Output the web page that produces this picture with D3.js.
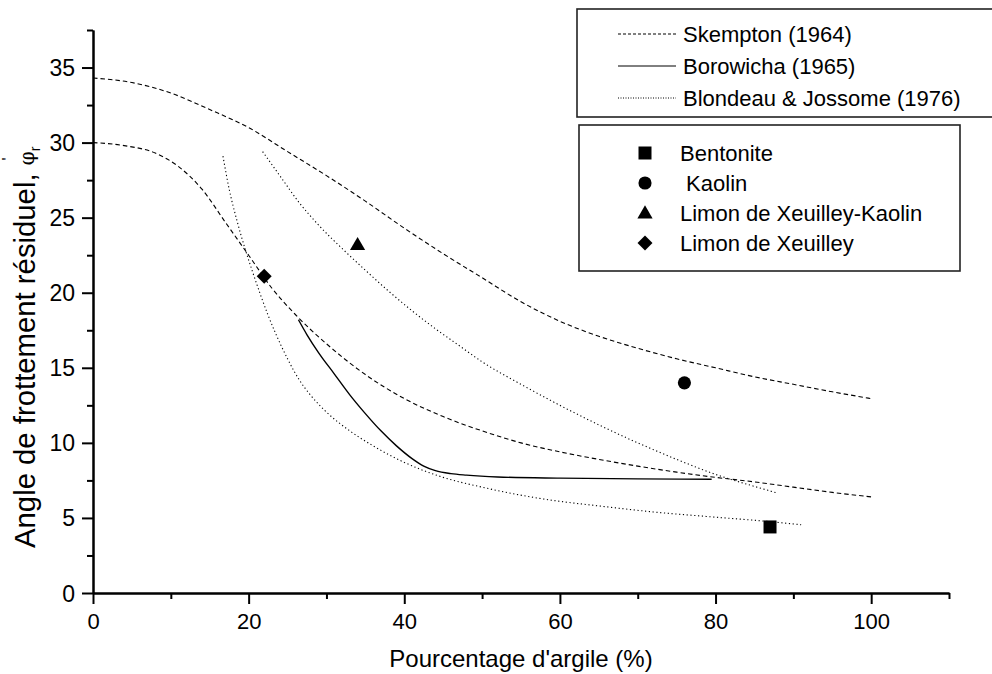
<!DOCTYPE html>
<html>
<head>
<meta charset="utf-8">
<script src="https://cdn.jsdelivr.net/npm/d3@7/dist/d3.min.js"></script>
<style>
  html, body { margin: 0; padding: 0; background: #fff; }
  svg { display: block; font-family: "Liberation Sans", Arial, sans-serif; }
</style>
</head>
<body>
<svg id="chart" width="992" height="674"></svg>
<script>
// ---------------- DATA ----------------
const xTicksMajor = [0, 20, 40, 60, 80, 100];
const xTicksMinor = [10, 30, 50, 70, 90, 110];
const yTicksMajor = [0, 5, 10, 15, 20, 25, 30, 35];
const yTicksMinor = [2.5, 7.5, 12.5, 17.5, 22.5, 27.5, 32.5, 37.5];

const skemptonUpperX = [0, 5, 10, 15, 20, 25, 30, 35, 40, 45, 50, 55, 60, 65, 70, 75, 80, 85, 90, 95, 100];
const skemptonUpperY = [34.3, 34.0, 33.3, 32.2, 31.0, 29.4, 27.8, 26.1, 24.3, 22.6, 21.0, 19.4, 18.1, 17.1, 16.3, 15.6, 15.0, 14.4, 13.9, 13.4, 12.95];

const skemptonLowerX = [0, 4, 8, 11, 14, 17, 20, 23, 26, 30, 35, 40, 45, 50, 55, 60, 65, 70, 75, 80, 85, 90, 95, 100];
const skemptonLowerY = [30.0, 29.8, 29.3, 28.4, 26.9, 24.7, 22.5, 20.3, 18.55, 16.6, 14.55, 12.95, 11.75, 10.8, 10.0, 9.4, 8.9, 8.45, 8.05, 7.7, 7.4, 7.05, 6.7, 6.4];

const borowichaX = [26.4, 27.5, 29, 31, 33, 35, 37, 39, 41, 42.5, 44, 46, 48, 52, 60, 70, 79.5];
const borowichaY = [18.2, 17.2, 16.0, 14.6, 13.2, 11.95, 10.8, 9.8, 8.95, 8.45, 8.15, 7.95, 7.85, 7.73, 7.65, 7.6, 7.58];

const blondeauLeftX = [16.7, 17.5, 18.5, 19.5, 20.5, 21.5, 22.5, 23.5, 25, 26.5, 28, 30, 33, 36, 40, 45, 50, 58, 65, 72, 80, 86, 91];
const blondeauLeftY = [29.1, 26.9, 24.8, 23.0, 21.4, 19.9, 18.5, 17.25, 15.6, 14.2, 13.15, 12.05, 10.8, 9.8, 8.7, 7.7, 7.05, 6.25, 5.8, 5.4, 5.05, 4.8, 4.55];

const blondeauRightX = [21.8, 24, 26.5, 29, 32, 35, 38, 41, 44, 47, 50, 55, 60, 65, 70, 75, 80, 85, 88];
const blondeauRightY = [29.4, 27.8, 26.0, 24.5, 22.95, 21.5, 20.1, 18.8, 17.6, 16.5, 15.4, 13.9, 12.5, 11.2, 10.0, 8.9, 7.9, 7.1, 6.65];

const sampleNames = ["Bentonite", " Kaolin", "Limon de Xeuilley-Kaolin", "Limon de Xeuilley"];
const sampleX = [87, 76, 34, 22];
const sampleY = [4.4, 14.0, 23.2, 21.1];
const sampleShapes = ["square", "circle", "triangle", "diamond"];

const curveNames = ["Skempton (1964)", "Borowicha (1965)", "Blondeau & Jossome (1976)"];

const xTitle = "Pourcentage d'argile (%)";
const yTitle = "Angle de frottement résiduel, ";

// ---------------- CHART ----------------
const svg = d3.select("#chart");
const x = d3.scaleLinear().domain([0, 110]).range([93, 949]);
const y = d3.scaleLinear().domain([0, 37.5]).range([593, 30]);

const dashStyle = "4.5,3";
const dotStyle = "1.2,2.6";

const zip = (xs, ys) => xs.map((v, i) => [v, ys[i]]);
const line = d3.line().x(d => x(d[0])).y(d => y(d[1])).curve(d3.curveMonotoneX);

const curves = [
  { data: zip(skemptonUpperX, skemptonUpperY), dash: dashStyle, w: 1.1 },
  { data: zip(skemptonLowerX, skemptonLowerY), dash: dashStyle, w: 1.1 },
  { data: zip(borowichaX, borowichaY), dash: null, w: 1.4 },
  { data: zip(blondeauLeftX, blondeauLeftY), dash: dotStyle, w: 1.1 },
  { data: zip(blondeauRightX, blondeauRightY), dash: dotStyle, w: 1.1 }
];
svg.append("g").selectAll("path").data(curves).join("path")
  .attr("d", d => line(d.data))
  .attr("fill", "none")
  .attr("stroke", "#000")
  .attr("stroke-width", d => d.w)
  .attr("stroke-dasharray", d => d.dash);

function symPath(shape) {
  if (shape === "square") return d3.symbol(d3.symbolSquare, 169)();
  if (shape === "circle") return d3.symbol(d3.symbolCircle, 136)();
  if (shape === "triangle") return d3.symbol(d3.symbolTriangle, 100)();
  return d3.symbol(d3.symbolSquare, 112)();
}
function symTransform(shape, px, py) {
  if (shape === "diamond") return `translate(${px},${py}) rotate(45)`;
  if (shape === "triangle") return `translate(${px},${py + 1})`;
  return `translate(${px},${py})`;
}

// markers
svg.append("g").selectAll("path").data(sampleX.map((v, i) => i)).join("path")
  .attr("d", i => symPath(sampleShapes[i]))
  .attr("transform", i => symTransform(sampleShapes[i], x(sampleX[i]), y(sampleY[i])))
  .attr("fill", "#000");

// axes
const xAxis = svg.append("g").attr("transform", "translate(0,593)");
xAxis.call(d3.axisBottom(x).tickValues(xTicksMajor).tickSize(11).tickSizeOuter(0).tickFormat(d3.format("d")));
const xMinor = svg.append("g").attr("transform", "translate(0,593)");
xMinor.call(d3.axisBottom(x).tickValues(xTicksMinor).tickSize(6).tickSizeOuter(0).tickFormat(""));

const yAxis = svg.append("g").attr("transform", "translate(93,0)");
yAxis.call(d3.axisLeft(y).tickValues(yTicksMajor).tickSize(11).tickSizeOuter(0).tickFormat(d3.format("d")));
const yMinor = svg.append("g").attr("transform", "translate(93,0)");
yMinor.call(d3.axisLeft(y).tickValues(yTicksMinor).tickSize(6).tickSizeOuter(0).tickFormat(""));

[xAxis, xMinor, yAxis, yMinor].forEach(g => {
  g.select(".domain").attr("stroke", "#000").attr("stroke-width", 2);
  g.selectAll(".tick line").attr("stroke", "#000").attr("stroke-width", 2);
});
xAxis.selectAll(".tick text")
  .attr("font-family", "Liberation Sans, Arial, sans-serif")
  .attr("font-size", 22).attr("fill", "#000").attr("dy", null).attr("y", 36);
yAxis.selectAll(".tick text")
  .attr("font-family", "Liberation Sans, Arial, sans-serif")
  .attr("font-size", 23).attr("fill", "#000").attr("x", -18).attr("dy", "0.35em");

// axis titles
svg.append("text")
  .attr("x", 521).attr("y", 667)
  .attr("text-anchor", "middle")
  .attr("font-size", 24)
  .text(xTitle);

const yt = svg.append("text")
  .attr("transform", "translate(35,548) rotate(-90)")
  .attr("text-anchor", "start")
  .attr("font-size", 29.3);
yt.append("tspan").text(yTitle);
yt.append("tspan").attr("font-size", 20).attr("font-family", "DejaVu Serif, serif").attr("dy", -1).text("φ");
yt.append("tspan").attr("font-size", 14).attr("dy", 6).text("r");
yt.append("tspan").attr("font-size", 16).attr("dx", -14).attr("dy", -26).text("'");

// legend 1 (curves)
svg.append("rect").attr("x", 577).attr("y", 9).attr("width", 420).attr("height", 108)
  .attr("fill", "#fff").attr("stroke", "#222").attr("stroke-width", 1.6);
const legDash = ["3,2", null, "1,1.5"];
const legRowY = [34, 66, 98];
curveNames.forEach((n, i) => {
  svg.append("line").attr("x1", 618).attr("x2", 676).attr("y1", legRowY[i]).attr("y2", legRowY[i])
    .attr("stroke", "#000").attr("stroke-width", 1).attr("stroke-dasharray", legDash[i]);
  svg.append("text").attr("x", 683).attr("y", legRowY[i] + 8).attr("font-size", 22).text(n);
});

// legend 2 (samples)
svg.append("rect").attr("x", 579).attr("y", 125).attr("width", 381).attr("height", 146)
  .attr("fill", "#fff").attr("stroke", "#222").attr("stroke-width", 1.6);
const leg2RowY = [153, 183, 213, 243];
sampleNames.forEach((n, i) => {
  svg.append("path").attr("d", symPath(sampleShapes[i]))
    .attr("transform", symTransform(sampleShapes[i], 645, leg2RowY[i]))
    .attr("fill", "#000");
  svg.append("text").attr("x", 680).attr("y", leg2RowY[i] + 8).attr("font-size", 22)
    .style("white-space", "pre").text(n);
});
</script>
</body>
</html>
